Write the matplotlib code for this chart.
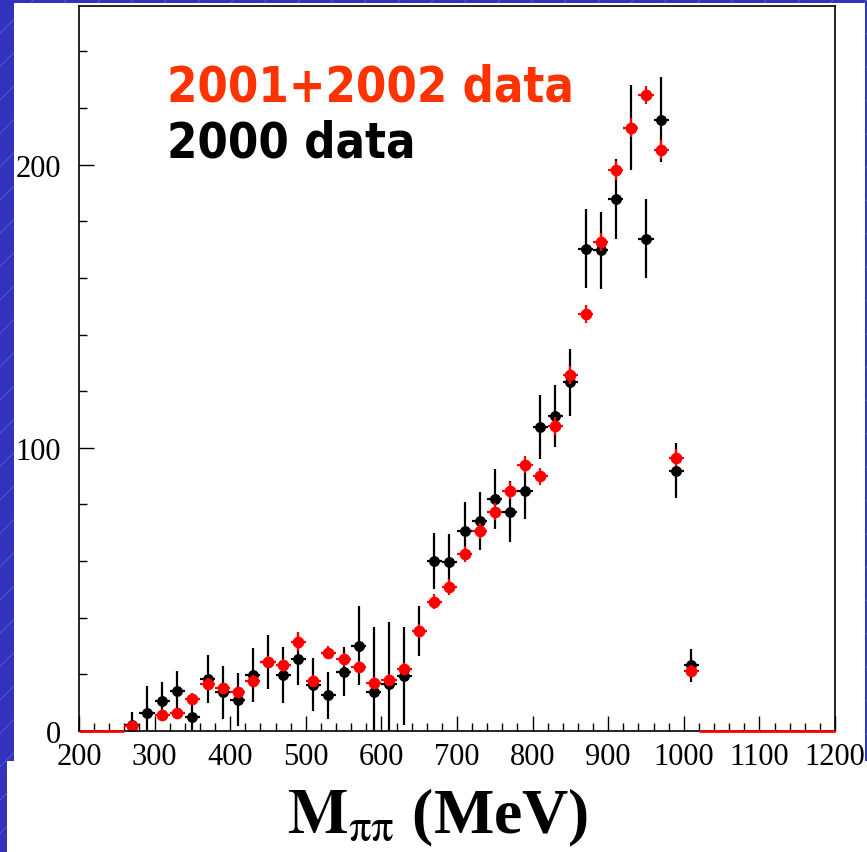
import numpy as np
import matplotlib
matplotlib.use('agg')
import matplotlib.pyplot as plt
from matplotlib.patches import Rectangle
from matplotlib.ticker import MultipleLocator

# bin centres (MeV), 20 MeV bins
mass = list(range(210, 1200, 20))

# 2000 data (black) - only filled bins
black_mass = list(range(270, 1020, 20))
black_val = [2.0, 6.2, 10.7, 14.0, 4.8, 18.4, 13.7, 11.1, 19.8, 24.5,
             19.8, 25.6, 16.3, 12.7, 21.0, 30.1, 13.7, 16.6, 19.3, 35.4,
             60.0, 59.7, 70.7, 74.1, 82.0, 77.5, 84.7, 107.3, 111.2, 123.2,
             170.3, 169.7, 187.7, 213.0, 173.9, 215.9, 91.9, 23.2]
black_err = [4.6, 9.6, 6.5, 7.3, 4.5, 8.6, 9.4, 9.4, 9.4, 9.5,
             9.8, 9.5, 9.4, 8.3, 8.8, 14.0, 23.0, 21.8, 17.3, 8.9,
             10.0, 10.0, 10.0, 10.3, 10.6, 10.7, 9.7, 11.3, 11.0, 11.8,
             13.9, 13.7, 14.1, 15.0, 13.9, 14.9, 9.8, 5.9]

# 2001+2002 data (red) - all bins, 0 = empty bin, nan = not shown
red_val = [0, 0, 0, 1.9, np.nan, 5.8, 6.2, 11.3, 16.6, 15.1,
           13.7, 17.6, 24.3, 23.4, 31.6, 17.8, 27.7, 25.4, 22.6, 17.0,
           18.0, 21.9, 35.4, 45.6, 50.8, 62.5, 70.7, 77.5, 84.8, 94.0,
           90.0, 107.7, 125.8, 147.3, 172.7, 198.0, 213.0, 224.7, 205.3, 96.5,
           21.2, 0, 0, 0, 0, 0, 0, 0, 0, 0]
red_err = [0, 0, 0, 1.8, 0, 2.0, 2.0, 2.0, 2.0, 2.0,
           2.0, 2.0, 2.2, 2.2, 3.5, 2.0, 2.4, 2.3, 2.2, 2.0,
           2.0, 2.2, 2.5, 2.6, 2.7, 2.8, 2.9, 3.0, 3.0, 3.0,
           3.0, 3.1, 3.2, 3.2, 3.3, 3.3, 3.3, 3.2, 3.3, 3.0,
           2.2, 0, 0, 0, 0, 0, 0, 0, 0, 0]

fig = plt.figure(figsize=(8.67, 8.53), dpi=100)
fig.patch.set_facecolor('#3232bc')
plt.rcParams['hatch.linewidth'] = 0.5
plt.rcParams['mathtext.fontset'] = 'stix'
fig.patches.append(Rectangle((0, 0), 1, 1, transform=fig.transFigure,
                             facecolor='none', edgecolor='#6464d2', hatch='/', lw=0, zorder=-10))
W, H = 867.0, 853.0
fig.patches.append(Rectangle((14/W, 91/H), 851/W, 758/H, transform=fig.transFigure,
                             facecolor='white', edgecolor='none', zorder=-9))
fig.patches.append(Rectangle((7/W, 0), 860/W, 91/H, transform=fig.transFigure,
                             facecolor='white', edgecolor='none', zorder=-9))

ax = fig.add_axes([79/W, 121/H, 756/W, 725/H])
ax.set_facecolor('white')

ax.errorbar(black_mass, black_val, yerr=black_err, xerr=10, fmt='o', color='black',
            ms=6.8, elinewidth=1.6, capsize=0, zorder=3)

red_val = np.array(red_val, dtype=float)
red_err = np.array(red_err, dtype=float)
mass = np.array(mass)
full = red_val > 0
empty = red_val == 0
ax.errorbar(mass[full], red_val[full], yerr=red_err[full], xerr=10, fmt='o', color='red',
            ms=7.4, elinewidth=1.6, capsize=0, zorder=4)
ax.errorbar(mass[empty], red_val[empty], xerr=10, fmt='none', ecolor='red',
            elinewidth=2.0, capsize=0, zorder=8, clip_on=False)

ax.set_xlim(200, 1200)
ax.set_ylim(0, 256)
ax.xaxis.set_major_locator(MultipleLocator(100))
ax.xaxis.set_minor_locator(MultipleLocator(20))
ax.yaxis.set_major_locator(MultipleLocator(100))
ax.yaxis.set_minor_locator(MultipleLocator(20))
ax.tick_params(which='both', direction='in', top=False, right=False, width=1.0, color='black')
ax.tick_params(which='major', length=11)
ax.tick_params(which='minor', length=5.5)
ax.tick_params(axis='x', pad=8)
ax.tick_params(axis='y', pad=13)
for lab in ax.get_xticklabels() + ax.get_yticklabels():
    lab.set_fontfamily('Liberation Serif')
    lab.set_fontsize(22)
for sp in ax.spines.values():
    sp.set_linewidth(1.2)
    sp.set_zorder(6)

fig.text(167/W, (H - 102)/H, '2001+2002 data', color='#ff3300', fontsize=35,
         fontweight='bold', family='DejaVu Sans', fontstretch='condensed',
         va='baseline', ha='left')
fig.text(167/W, (H - 158)/H, '2000 data', color='black', fontsize=35,
         fontweight='bold', family='DejaVu Sans', fontstretch='condensed',
         va='baseline', ha='left')

fig.text(438/W, (H - 833)/H, r'$\mathbf{M}_{\mathrm{\pi\pi}}$ (MeV)', fontsize=46,
         fontweight='bold', family='Liberation Serif', va='baseline', ha='center')

fig.savefig('out.png', dpi=100, facecolor=fig.get_facecolor())
